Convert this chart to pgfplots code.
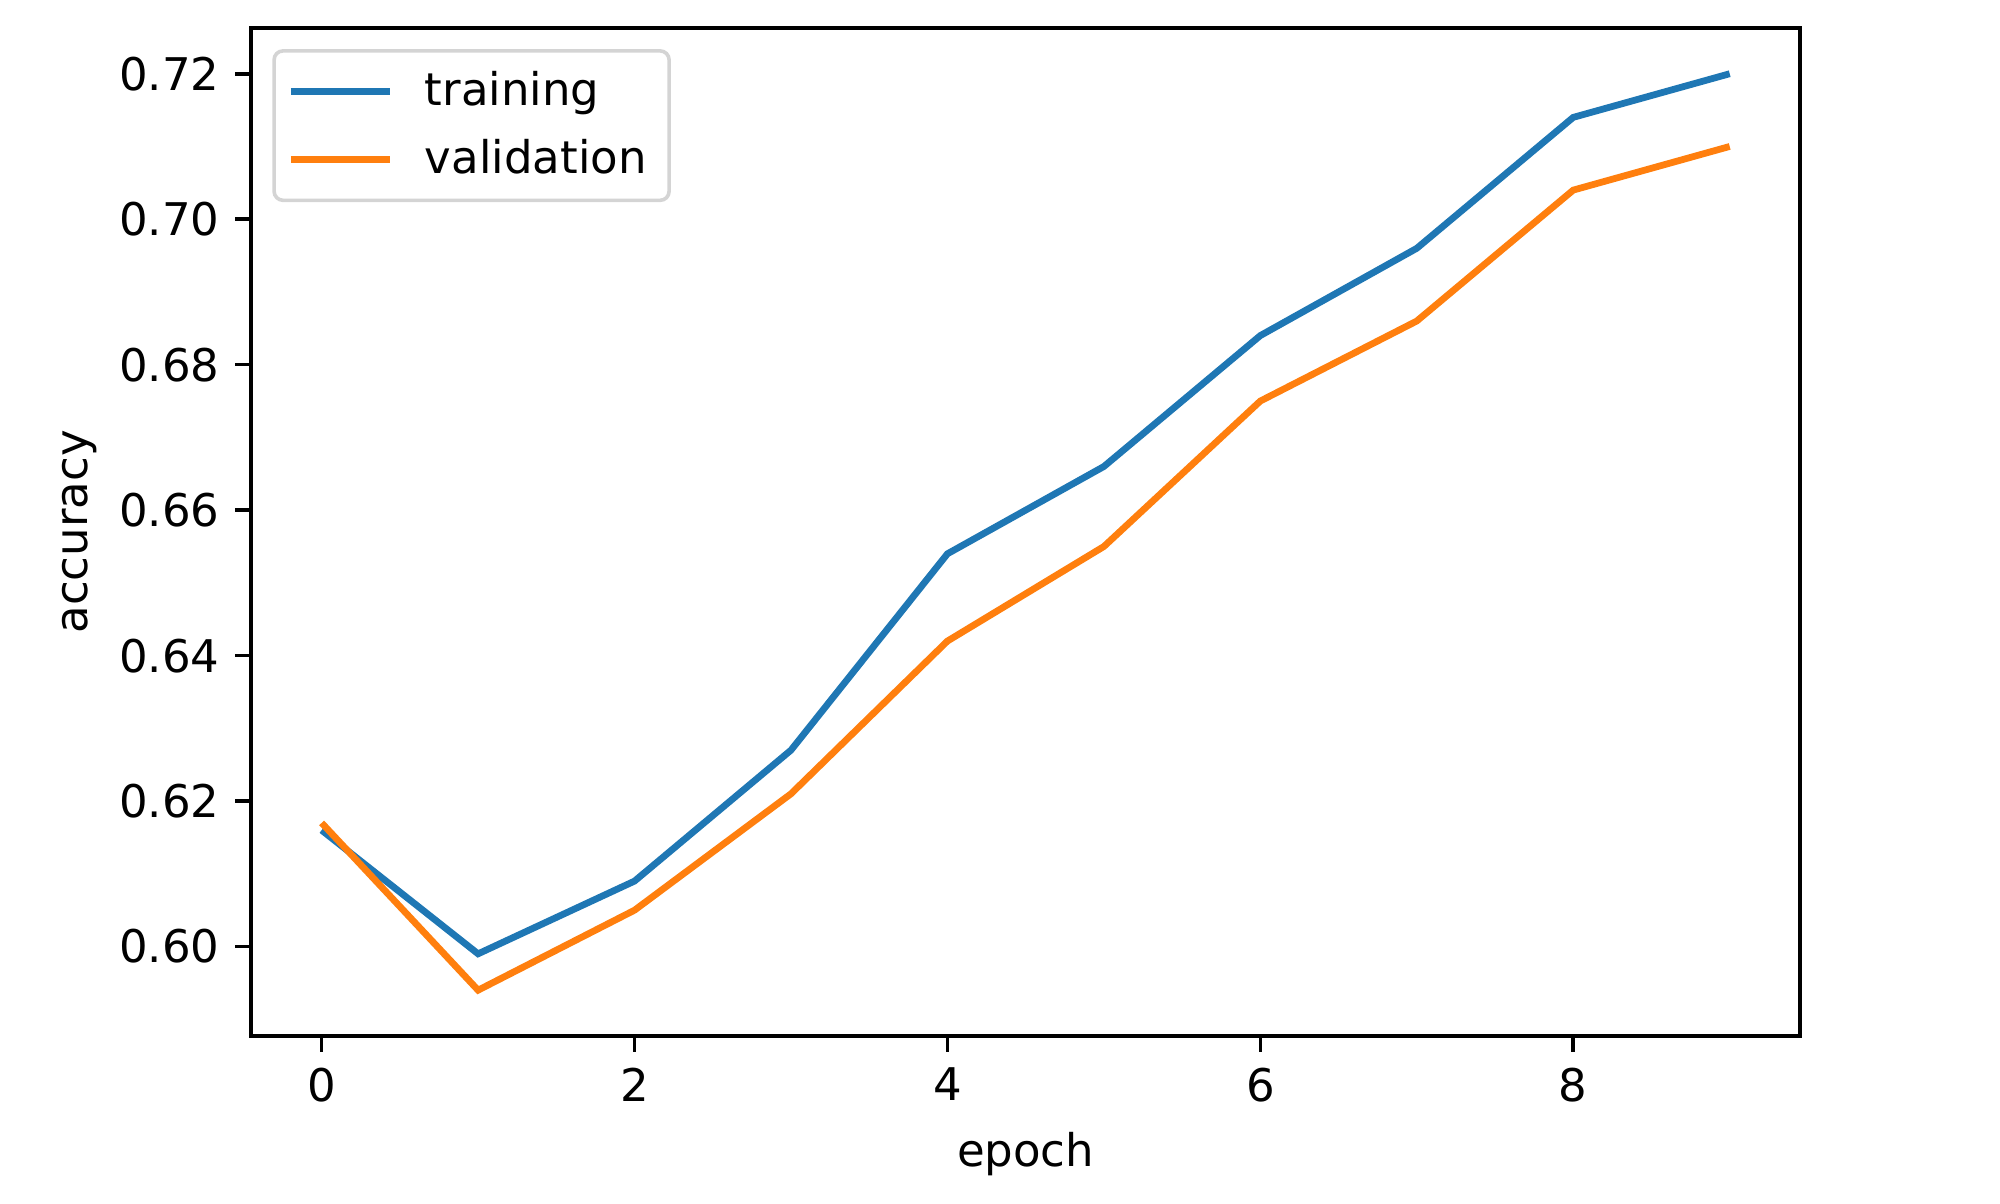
\documentclass[border=0pt]{standalone}
\usepackage{fontspec}
\setmainfont{DejaVu Sans}
\usepackage{pgfplots}
\pgfplotsset{compat=1.18}

\definecolor{tabblue}{HTML}{1F77B4}
\definecolor{taborange}{HTML}{FF7F0E}

\begin{document}
\begin{tikzpicture}
\begin{axis}[
  scale only axis, width=344pt, height=223.9pt,
  xmin=-0.45, xmax=9.45, ymin=0.5877, ymax=0.7263,
  xtick={0,2,4,6,8}, ytick={0.60,0.62,0.64,0.66,0.68,0.70,0.72},
  yticklabel style={/pgf/number format/.cd, fixed, fixed zerofill, precision=2},
  /pgf/number format/assume math mode=true,
  tick align=outside, major tick length=3.5pt,
  tick style={black, line width=0.8pt}, axis line style={line width=0.8pt},
  xtick pos=bottom, ytick pos=left,
  xlabel={epoch}, ylabel={accuracy},
  xlabel style={at={(axis description cs:0.5,-0.1175)}, anchor=center},
  ylabel style={at={(axis description cs:-0.111,0.5)}, anchor=center},
  legend cell align=left,
  legend style={at={(axis description cs:0.0136,0.979)}, anchor=north west,
    draw=black!17, rounded corners=2pt, line width=0.8pt,
    inner xsep=3pt, inner ysep=2.5pt, row sep=2pt},
  legend image code/.code={\draw[#1] (0pt,0pt) -- (22pt,0pt); \path (27pt,0pt);},
]
\addplot[tabblue, line width=1.5pt] coordinates {
(0,0.616) (1,0.599) (2,0.609) (3,0.627) (4,0.654)
(5,0.666) (6,0.684) (7,0.696) (8,0.714) (9,0.720)
};
\addlegendentry{training}
\addplot[taborange, line width=1.5pt] coordinates {
(0,0.617) (1,0.594) (2,0.605) (3,0.621) (4,0.642)
(5,0.655) (6,0.675) (7,0.686) (8,0.704) (9,0.710)
};
\addlegendentry{validation}
\end{axis}
\path ([shift={(-55.8pt,-37.3pt)}]current axis.south west) rectangle ([shift={(44.4pt,6.2pt)}]current axis.north east);
\end{tikzpicture}
\end{document}
